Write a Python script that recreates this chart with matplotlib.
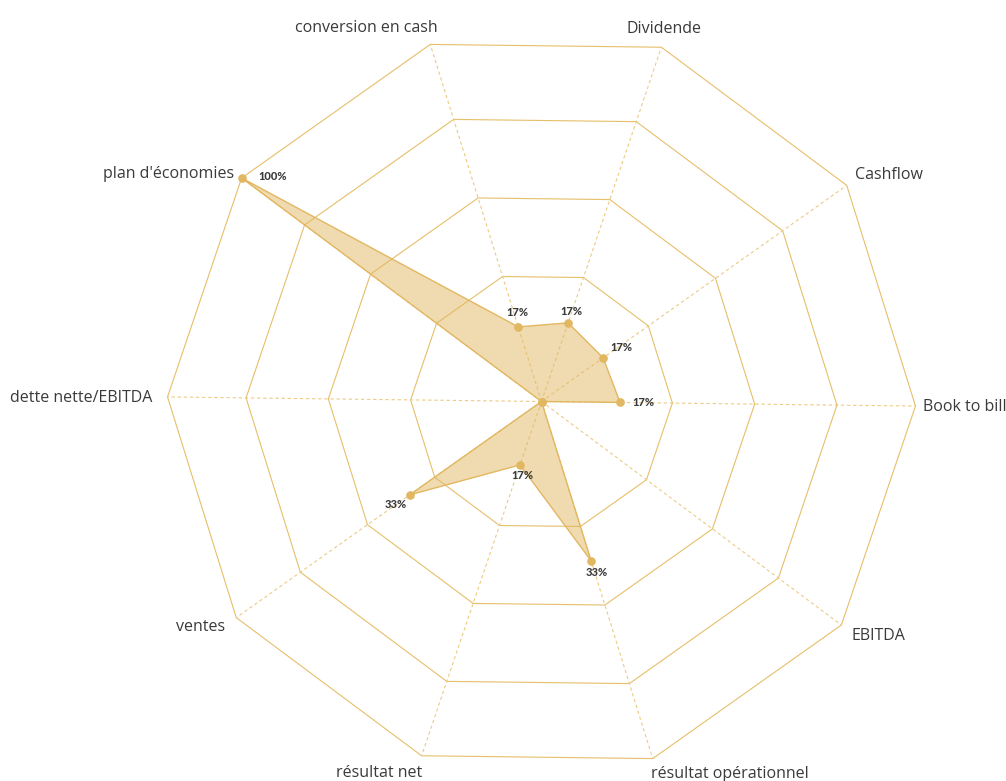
"""
Radar chart - indicateurs (reproduction)
"""

import numpy as np
import matplotlib
matplotlib.use('Agg')
import matplotlib.pyplot as plt

# Data
categories = ['Book to bill', 'Cashflow', 'Dividende', 'conversion en cash',
              "plan d'économies", 'dette nette/EBITDA', 'ventes',
              'résultat net', 'résultat opérationnel', 'EBITDA']
# radius of each point, as a share of the outer ring
radius = [0.210, 0.202, 0.222, 0.209, 1.0, 0.0, 0.432, 0.179, 0.446, 0.0]
value_labels = ['17%', '17%', '17%', '17%', '100%', '', '33%', '17%', '33%', '']
rings = [0.35, 0.57, 0.79, 1.0]

# Styles / placement
GOLD = '#e2b761'
GRID = '#e6bf6a'
SPOKE = '#eccb86'
TEXT = '#3a3a3a'
TILT = -0.7  # degrees, the whole chart is turned a little

# (dx, dy, ha) in pixels from the outer vertex
name_pos = [(8, -1, 'left'), (8, 10, 'left'), (3, 18, 'center'), (7, 16, 'right'),
            (-8, 4, 'right'), (-15, -1, 'right'), (-11, -9, 'right'),
            (1, -17, 'right'), (-2, -15, 'left'), (10, -11, 'left')]
# (dx, dy, ha) in pixels from the data point
value_pos = [(12, 0, 'left'), (7, 10, 'left'), (3, 11, 'center'), (-1, 14, 'center'),
             (17, 1, 'left'), None, (-14, -10, 'center'), (2, -11, 'center'),
             (6, -12, 'center'), None]

n = len(categories)
theta = np.linspace(0, 2 * np.pi, n, endpoint=False)
theta_c = np.append(theta, theta[0])

W, H = 1006, 781
cx, cy, R = 541.5, 401.5, 374.0

fig = plt.figure(figsize=(W / 100, H / 100), dpi=100)
rect = [(cx - R) / W, (H - cy - R) / H, 2 * R / W, 2 * R / H]
ax = fig.add_axes(rect, projection='polar')
ax.set_theta_offset(np.deg2rad(TILT))
ax.set_ylim(0, 1)
ax.axis('off')

# polygon rings
for r in rings:
    ax.plot(theta_c, [r] * (n + 1), color=GRID, lw=0.8, zorder=1, clip_on=False)

# spokes
for t in theta:
    ax.plot([t, t], [0, 1], color=SPOKE, lw=0.8, ls=(0, (3, 2.5)), zorder=1, clip_on=False)

# data polygon
r_c = np.append(radius, radius[0])
ax.fill(theta_c, r_c, color=GOLD, alpha=0.5, lw=0, zorder=2)
ax.plot(theta_c, r_c, color=GOLD, lw=1.0, zorder=3)
ax.plot(theta, radius, 'o', color=GOLD, ms=5.2, zorder=4, clip_on=False)

# value labels
for t, r, lab, pos in zip(theta, radius, value_labels, value_pos):
    if pos is None:
        continue
    dx, dy, ha = pos
    ax.annotate(lab, xy=(t, r), xytext=(dx, dy), textcoords='offset pixels',
                ha=ha, va='center', fontsize=8, fontweight=900, color=TEXT,
                family=['Lato', 'DejaVu Sans'], zorder=5)

# category names
for t, name, pos in zip(theta, categories, name_pos):
    dx, dy, ha = pos
    ax.annotate(name, xy=(t, 1.0), xytext=(dx, dy), textcoords='offset pixels',
                ha=ha, va='center', fontsize=11.5, color=TEXT,
                family=['Open Sans', 'DejaVu Sans'], annotation_clip=False)

fig.savefig('out.png', dpi=100)
